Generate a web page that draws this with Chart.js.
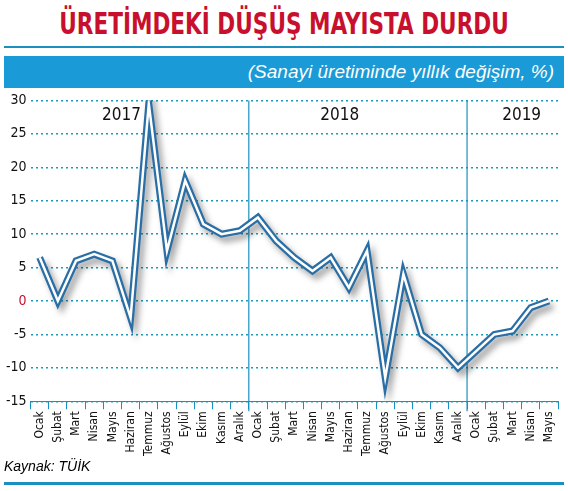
<!DOCTYPE html>
<html><head><meta charset="utf-8">
<script src="https://cdn.jsdelivr.net/npm/chart.js@4"></script>
<style>
body{margin:0;width:568px;height:491px;background:#fff;position:relative;overflow:hidden;font-family:"DejaVu Sans Condensed","Liberation Sans Narrow",sans-serif}
#title{position:absolute;top:6px;left:0;width:568px;text-align:center;white-space:nowrap;color:#c8102e;font-weight:bold;font-size:30px;transform:scaleX(0.8);font-family:"DejaVu Sans Condensed","Roboto",sans-serif}
#topline{position:absolute;top:46px;left:4px;width:560px;height:2px;background:#1a8fc0}
#band{position:absolute;top:56px;left:4px;width:560px;height:32px;background:#1a9ad6;color:#fff;font-style:italic;font-size:19px;text-align:right;line-height:32px;box-sizing:border-box;padding-right:10px;font-family:"Liberation Sans",sans-serif}
#wrap{position:absolute;top:88px;left:0;width:568px;height:370px}
#src{position:absolute;top:458px;left:4px;font-style:italic;font-size:14px;font-family:"Liberation Sans",sans-serif}
#botline{position:absolute;top:482px;left:4px;width:560px;height:3px;background:#1a8fc0}
</style></head><body>
<div id="title">ÜRETİMDEKİ DÜŞÜŞ MAYISTA DURDU</div>
<div id="topline"></div>
<div id="band">(Sanayi üretiminde yıllık değişim, %)</div>
<div id="wrap"><canvas id="c"></canvas></div>
<div id="src">Kaynak: TÜİK</div>
<div id="botline"></div>
<script>
const months=["Ocak","Şubat","Mart","Nisan","Mayıs","Haziran","Temmuz","Ağustos","Eylül","Ekim","Kasım","Aralık",
"Ocak","Şubat","Mart","Nisan","Mayıs","Haziran","Temmuz","Ağustos","Eylül","Ekim","Kasım","Aralık",
"Ocak","Şubat","Mart","Nisan","Mayıs"];
const values=[6.5,0,6,7,6,-2.5,29.5,7.5,18,11.5,10,10.5,
12.5,9,6.5,4.5,6.5,2,7.5,-11.5,4,-5,-7,-10,
-7.5,-5,-4.5,-1,0];
const years=["2017","2018","2019"];
const FONT='"DejaVu Sans Condensed","Liberation Sans Narrow",sans-serif';
const deco={id:'deco',
 beforeDatasetsDraw(ch){const {ctx,chartArea:a,scales:{x}}=ch;ctx.save();ctx.strokeStyle='#1a8fc0';ctx.lineWidth=1.2;
  [11.5,23.5].forEach(v=>{const px=x.getPixelForValue(v);ctx.beginPath();ctx.moveTo(px,a.top);ctx.lineTo(px,a.bottom+10);ctx.stroke();});
  ctx.fillStyle='#111';ctx.font='17px '+FONT;ctx.textAlign='center';ctx.textBaseline='top';
  const cx=[4.5,16.5,26.5];
  years.forEach((y,i)=>ctx.fillText(y,x.getPixelForValue(cx[i]),a.top+7));
  ctx.restore();},
 beforeDatasetDraw(ch,args){if(args.index===0){const c=ch.ctx;c.save();c.shadowColor='rgba(0,0,0,0.35)';c.shadowBlur=6;c.shadowOffsetX=4;c.shadowOffsetY=5;}},
 afterDatasetDraw(ch,args){if(args.index===0)ch.ctx.restore();}
};
new Chart(document.getElementById('c'),{type:'line',
 data:{labels:months,datasets:[
  {data:values,order:1,borderColor:'#2a6ea6',borderWidth:7,pointRadius:0,tension:0,borderJoinStyle:'miter'},
  {data:values,order:0,borderColor:'#ffffff',borderWidth:2.5,pointRadius:0,tension:0,borderJoinStyle:'miter'}]},
 options:{animation:false,responsive:true,maintainAspectRatio:false,
  layout:{padding:{top:9,right:10,left:2,bottom:0}},
  plugins:{legend:{display:false},tooltip:{enabled:false}},
  scales:{
   x:{offset:true,grid:{display:true,drawOnChartArea:false,drawTicks:true,tickLength:8,color:'#1a8fc0',offset:true},border:{color:'#1a8fc0',width:1},
     ticks:{autoSkip:false,maxRotation:90,minRotation:90,color:'#111',font:{family:FONT,size:12},padding:2}},
   y:{min:-15,max:30,grid:{color:'#1a9bb5',lineWidth:1.5,drawTicks:false},border:{display:false,dash:[2,3]},
     ticks:{stepSize:5,color:c=>c.tick.value===0?'#c8102e':'#111',font:{family:FONT,size:14},padding:4}}
  }},
 plugins:[deco]});
</script></body></html>
